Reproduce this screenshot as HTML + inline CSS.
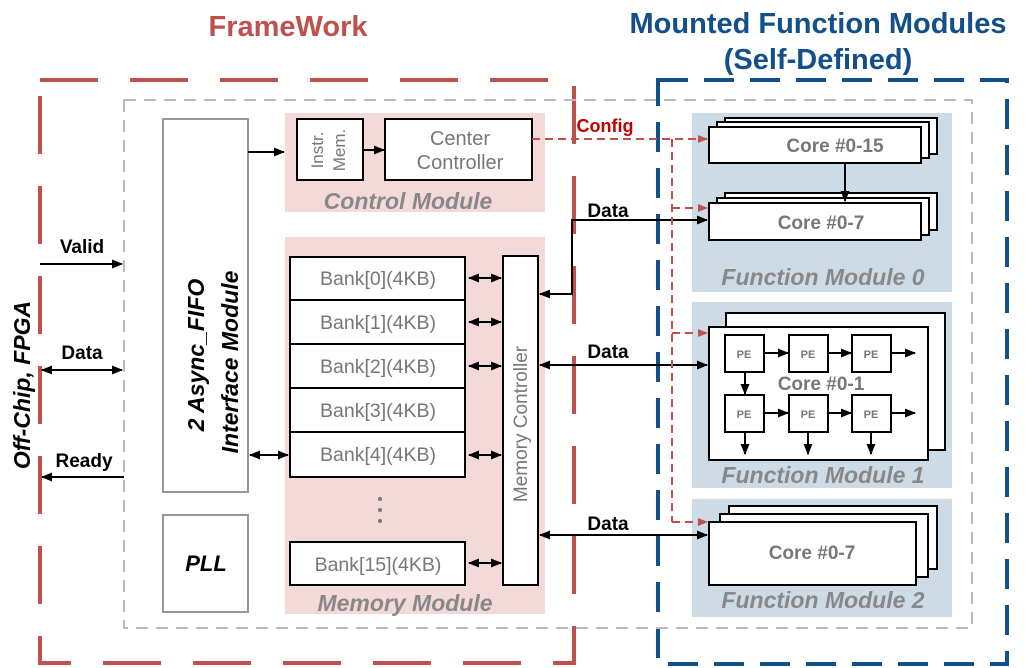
<!DOCTYPE html>
<html><head><meta charset="utf-8"><style>body{margin:0;background:#fff}svg{display:block}text{font-family:"Liberation Sans",Arial,sans-serif}</style></head><body>
<svg width="1029" height="668" viewBox="0 0 1029 668" xmlns="http://www.w3.org/2000/svg">
<defs>
<marker id="a" markerWidth="11" markerHeight="9" refX="10" refY="4.5" orient="auto-start-reverse" markerUnits="userSpaceOnUse"><path d="M0,0L11,4.5L0,9z" fill="#000"/></marker>
<marker id="r" markerWidth="10" markerHeight="8" refX="9" refY="4" orient="auto" markerUnits="userSpaceOnUse"><path d="M0,0L10,4L0,8z" fill="#c0504d"/></marker>
</defs>
<text x="288" y="36" font-size="29" font-weight="bold" fill="#c0504d" text-anchor="middle">FrameWork</text>
<text x="818" y="33" font-size="29" font-weight="bold" fill="#134f88" text-anchor="middle">Mounted Function Modules</text>
<text x="818" y="69" font-size="29" font-weight="bold" fill="#134f88" text-anchor="middle">(Self-Defined)</text>
<rect x="40" y="80" width="534" height="583" fill="none" stroke="#c0504d" stroke-width="4" stroke-dasharray="58,32"/>
<rect x="658" y="80" width="349" height="584" fill="none" stroke="#134f88" stroke-width="4" stroke-dasharray="30,16"/>
<rect x="124" y="100" width="848" height="528" fill="none" stroke="#bbb" stroke-width="2" stroke-dasharray="12,8"/>
<rect x="285" y="113" width="260" height="99" fill="#f4d9d9"/>
<rect x="285" y="237" width="260" height="377" fill="#f4d9d9"/>
<rect x="692" y="113" width="260" height="179" fill="#cddbe7"/>
<rect x="692" y="302" width="260" height="186" fill="#cddbe7"/>
<rect x="692" y="499" width="260" height="118" fill="#cddbe7"/>
<rect x="163" y="119" width="85" height="373" fill="#fff" stroke="#999" stroke-width="2"/>
<text transform="translate(204,355) rotate(-90)" font-size="23" font-weight="bold" font-style="italic" text-anchor="middle">2 Async_FIFO</text>
<text transform="translate(238,362) rotate(-90)" font-size="23" font-weight="bold" font-style="italic" text-anchor="middle">Interface Module</text>
<rect x="163" y="515" width="85" height="97" fill="#fff" stroke="#999" stroke-width="2"/>
<text x="206" y="571" font-size="22" font-weight="bold" font-style="italic" text-anchor="middle">PLL</text>
<text transform="translate(30,385) rotate(-90)" font-size="23" font-weight="bold" font-style="italic" text-anchor="middle">Off-Chip, FPGA</text>
<g stroke="#000" stroke-width="2" fill="none">
<line x1="40" y1="264" x2="122" y2="264" marker-end="url(#a)"/>
<line x1="42" y1="370" x2="122" y2="370" marker-start="url(#a)" marker-end="url(#a)"/>
<line x1="124" y1="477" x2="42" y2="477" marker-end="url(#a)"/>
<line x1="248" y1="152" x2="284" y2="152" marker-end="url(#a)"/>
<line x1="250" y1="455" x2="288" y2="455" marker-start="url(#a)" marker-end="url(#a)"/>
</g>
<text x="82" y="253" font-size="19" font-weight="bold" text-anchor="middle">Valid</text>
<text x="82" y="359" font-size="19" font-weight="bold" text-anchor="middle">Data</text>
<text x="84" y="467" font-size="19" font-weight="bold" text-anchor="middle">Ready</text>
<rect x="297" y="119" width="66" height="61" fill="#fff" stroke="#000" stroke-width="2"/>
<text transform="translate(323,150) rotate(-90)" font-size="17" fill="#777" text-anchor="middle">Instr.</text>
<text transform="translate(345,150) rotate(-90)" font-size="17" fill="#777" text-anchor="middle">Mem.</text>
<line x1="363" y1="150" x2="384" y2="150" stroke="#000" stroke-width="2" marker-end="url(#a)"/>
<rect x="385" y="119" width="147" height="61" fill="#fff" stroke="#000" stroke-width="2"/>
<text x="460" y="145" font-size="20" fill="#777" text-anchor="middle">Center</text>
<text x="460" y="169" font-size="20" fill="#777" text-anchor="middle">Controller</text>
<text x="408" y="209" font-size="23" font-weight="bold" font-style="italic" fill="#888" text-anchor="middle">Control Module</text>
<g fill="#fff" stroke="#000" stroke-width="2">
<rect x="290" y="257" width="175" height="220"/>
<line x1="290" y1="300" x2="465" y2="300"/><line x1="290" y1="344" x2="465" y2="344"/><line x1="290" y1="388" x2="465" y2="388"/><line x1="290" y1="432" x2="465" y2="432"/>
<rect x="290" y="542" width="175" height="43"/>
<rect x="503" y="256" width="35" height="329"/>
</g>
<g font-size="19.5" fill="#777" text-anchor="middle">
<text x="378" y="285">Bank[0](4KB)</text><text x="378" y="329">Bank[1](4KB)</text><text x="378" y="373">Bank[2](4KB)</text><text x="378" y="417">Bank[3](4KB)</text><text x="378" y="461">Bank[4](4KB)</text>
<text x="378" y="571">Bank[15](4KB)</text>
<text transform="translate(527,424) rotate(-90)" font-size="19">Memory Controller</text>
</g>
<g fill="#777"><circle cx="380" cy="499" r="2"/><circle cx="380" cy="510" r="2"/><circle cx="380" cy="521" r="2"/></g>
<text x="405" y="611" font-size="23" font-weight="bold" font-style="italic" fill="#888" text-anchor="middle">Memory Module</text>
<g stroke="#000" stroke-width="2">
<line x1="469" y1="278" x2="501" y2="278" marker-start="url(#a)" marker-end="url(#a)"/>
<line x1="469" y1="322" x2="501" y2="322" marker-start="url(#a)" marker-end="url(#a)"/>
<line x1="469" y1="366" x2="501" y2="366" marker-start="url(#a)" marker-end="url(#a)"/>
<line x1="469" y1="455" x2="501" y2="455" marker-start="url(#a)" marker-end="url(#a)"/>
<line x1="469" y1="563" x2="501" y2="563" marker-start="url(#a)" marker-end="url(#a)"/>
<polyline points="540,294 572,294 572,220 707,220" fill="none" marker-start="url(#a)" marker-end="url(#a)"/>
<line x1="540" y1="365" x2="707" y2="365" marker-start="url(#a)" marker-end="url(#a)"/>
<line x1="540" y1="535" x2="707" y2="535" marker-start="url(#a)" marker-end="url(#a)"/>
</g>
<text x="608" y="217" font-size="19" font-weight="bold" text-anchor="middle">Data</text>
<text x="608" y="358" font-size="19" font-weight="bold" text-anchor="middle">Data</text>
<text x="608" y="530" font-size="19" font-weight="bold" text-anchor="middle">Data</text>
<g stroke="#c0504d" stroke-width="2" fill="none" stroke-dasharray="8,5">
<line x1="532" y1="139" x2="707" y2="139" marker-end="url(#r)"/>
<line x1="672" y1="139" x2="672" y2="522"/>
<line x1="672" y1="208" x2="707" y2="208" marker-end="url(#r)"/>
<line x1="672" y1="333" x2="707" y2="333" marker-end="url(#r)"/>
<line x1="672" y1="522" x2="707" y2="522" marker-end="url(#r)"/>
</g>
<text x="605" y="132" font-size="18" font-weight="bold" fill="#c00000" text-anchor="middle">Config</text>
<g fill="#fff" stroke="#000" stroke-width="2">
<rect x="725" y="118" width="212" height="36"/><rect x="717" y="122" width="212" height="36"/><rect x="709" y="127" width="212" height="36"/>
<rect x="725" y="193" width="212" height="37"/><rect x="717" y="198" width="212" height="37"/><rect x="709" y="203" width="212" height="37"/>
</g>
<line x1="845" y1="163" x2="845" y2="201" stroke="#000" stroke-width="2" marker-end="url(#a)"/>
<text x="835" y="152" font-size="19" font-weight="bold" fill="#777" text-anchor="middle">Core #0-15</text>
<text x="821" y="229" font-size="19" font-weight="bold" fill="#777" text-anchor="middle">Core #0-7</text>
<text x="823" y="285" font-size="23" font-weight="bold" font-style="italic" fill="#888" text-anchor="middle">Function Module 0</text>
<g fill="#fff" stroke="#000" stroke-width="2">
<rect x="726" y="313" width="219" height="137"/><rect x="709" y="327" width="219" height="133"/>
<rect x="725" y="335" width="39" height="37"/><rect x="789" y="335" width="39" height="37"/><rect x="852" y="335" width="39" height="37"/>
<rect x="725" y="395" width="39" height="37"/><rect x="789" y="395" width="39" height="37"/><rect x="852" y="395" width="39" height="37"/>
</g>
<g font-size="11" font-weight="bold" fill="#777" text-anchor="middle">
<text x="744" y="358">PE</text><text x="808" y="358">PE</text><text x="871" y="358">PE</text>
<text x="744" y="418">PE</text><text x="808" y="418">PE</text><text x="871" y="418">PE</text>
</g>
<text x="821" y="390" font-size="19" font-weight="bold" fill="#777" text-anchor="middle">Core #0-1</text>
<g stroke="#000" stroke-width="2">
<line x1="764" y1="353" x2="788" y2="353" marker-end="url(#a)"/><line x1="828" y1="353" x2="851" y2="353" marker-end="url(#a)"/><line x1="891" y1="353" x2="915" y2="353" marker-end="url(#a)"/>
<line x1="764" y1="413" x2="788" y2="413" marker-end="url(#a)"/><line x1="828" y1="413" x2="851" y2="413" marker-end="url(#a)"/><line x1="891" y1="413" x2="915" y2="413" marker-end="url(#a)"/>
<line x1="745" y1="372" x2="745" y2="394" marker-end="url(#a)"/>
<line x1="745" y1="432" x2="745" y2="454" marker-end="url(#a)"/><line x1="808" y1="432" x2="808" y2="454" marker-end="url(#a)"/><line x1="871" y1="432" x2="871" y2="454" marker-end="url(#a)"/>
</g>
<text x="823" y="483" font-size="23" font-weight="bold" font-style="italic" fill="#888" text-anchor="middle">Function Module 1</text>
<g fill="#fff" stroke="#000" stroke-width="2">
<rect x="729" y="506" width="208" height="63"/><rect x="720" y="514" width="208" height="63"/><rect x="709" y="522" width="207" height="63"/>
</g>
<text x="812" y="559" font-size="19" font-weight="bold" fill="#777" text-anchor="middle">Core #0-7</text>
<text x="823" y="608" font-size="23" font-weight="bold" font-style="italic" fill="#888" text-anchor="middle">Function Module 2</text>
</svg>
</body></html>
